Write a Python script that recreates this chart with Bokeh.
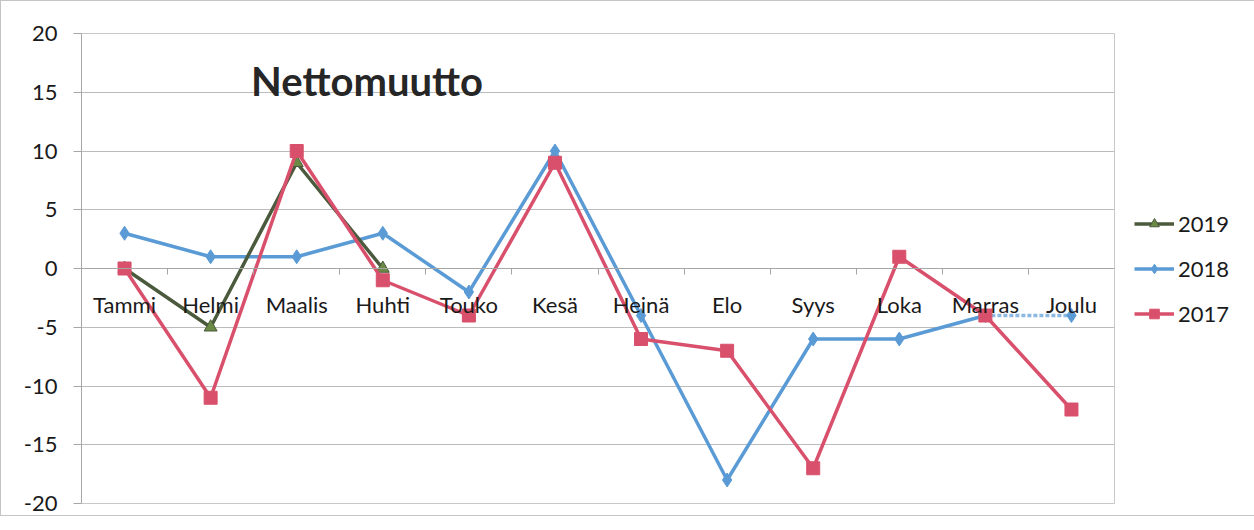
from bokeh.plotting import figure
from bokeh.models import FixedTicker, Legend, LegendItem, Label, Range1d
from bokeh.embed import file_html
from bokeh.resources import INLINE

months = ["Tammi", "Helmi", "Maalis", "Huhti", "Touko", "Kesä", "Heinä",
          "Elo", "Syys", "Loka", "Marras", "Joulu"]
v2019 = [0, -5, 9, 0]
v2018 = [3, 1, 1, 3, -2, 10, -4, -18, -6, -6, -4, -4]
v2017 = [0, -11, 10, -1, -4, 9, -6, -7, -17, 1, -4, -12]
y_ticks = [-20, -15, -10, -5, 0, 5, 10, 15, 20]
title_text = "Nettomuutto"

FONT = "Lato"
C2019_LINE = "#4b5a3c"
C2019_FILL = "#6a8a45"
C2018 = "#5b9bd5"
C2017 = "#d9506c"

x_all = list(range(len(months)))

p = figure(output_backend="svg", toolbar_location=None,
           x_range=Range1d(-0.5, len(months) - 0.5), y_range=Range1d(y_ticks[0], y_ticks[-1]),
           frame_width=1033, frame_height=470,
           min_border_left=80, min_border_right=20, min_border_top=32, min_border_bottom=12)
p.styles = {"border": "1px solid #c4c4c4"}
p.background_fill_color = "white"
p.border_fill_color = "white"
p.outline_line_color = "#c8c8c8"

# y axis
p.yaxis.ticker = FixedTicker(ticks=y_ticks)
p.yaxis.major_label_overrides = {t: str(t) for t in y_ticks}
p.yaxis.major_tick_out = 8
p.yaxis.major_tick_in = 0
p.yaxis.minor_tick_line_color = None
p.yaxis.axis_line_color = "#a6a6a6"
p.yaxis.major_tick_line_color = "#a6a6a6"
p.yaxis.major_label_standoff = 16
p.yaxis.major_label_text_font = FONT
p.yaxis.major_label_text_font_size = "22px"
p.yaxis.major_label_text_color = "#1a1a1a"

# x axis crossing at zero
p.xaxis.fixed_location = 0
p.xaxis.ticker = FixedTicker(ticks=x_all, minor_ticks=[i + 0.5 for i in x_all[:-1]])
p.xaxis.major_label_overrides = {i: m for i, m in zip(x_all, months)}
p.xaxis.major_tick_in = 0
p.xaxis.major_tick_out = 0
p.xaxis.minor_tick_in = 0
p.xaxis.minor_tick_out = 6
p.xaxis.minor_tick_line_color = "#a6a6a6"
p.xaxis.axis_line_color = "#a6a6a6"
p.xaxis.major_label_standoff = 16
p.xaxis.major_label_text_font = FONT
p.xaxis.major_label_text_font_size = "22px"
p.xaxis.major_label_text_color = "#1a1a1a"

p.xgrid.visible = False
p.ygrid.grid_line_color = "#bcbcbc"
p.ygrid.grid_line_width = 1

# 2018
l18 = p.line(x_all[:-1], v2018[:-1], line_color=C2018, line_width=3.5)
p.line(x_all[-2:], v2018[-2:], line_color=C2018, line_width=3.5, line_alpha=0.7, line_dash="4 2")
s18 = p.scatter(x_all, v2018, marker="diamond", size=14, fill_color=C2018, line_color=C2018)

# 2019
x19 = x_all[:len(v2019)]
l19 = p.line(x19, v2019, line_color=C2019_LINE, line_width=3.5)
s19 = p.scatter(x19, v2019, marker="triangle", size=13, fill_color=C2019_FILL, line_color=C2019_LINE)

# 2017
l17 = p.line(x_all, v2017, line_color=C2017, line_width=3.5)
s17 = p.scatter(x_all, v2017, marker="square", size=13, fill_color=C2017, line_color=C2017)

p.add_layout(Label(x=1.47, y=16, text=title_text, text_font=FONT, text_font_size="40px",
                   text_font_style="bold", text_baseline="middle", text_color="#262626"))

legend = Legend(items=[LegendItem(label="2019", renderers=[l19, s19]),
                       LegendItem(label="2018", renderers=[l18, s18]),
                       LegendItem(label="2017", renderers=[l17, s17])],
                location="center_left", glyph_width=40, glyph_height=24, spacing=18,
                padding=0, margin=20, label_standoff=4,
                label_text_font=FONT, label_text_font_size="22px", label_text_color="#1a1a1a",
                border_line_alpha=0, background_fill_alpha=0)
p.add_layout(legend, "right")

open("out.html", "w").write(file_html(p, INLINE))
